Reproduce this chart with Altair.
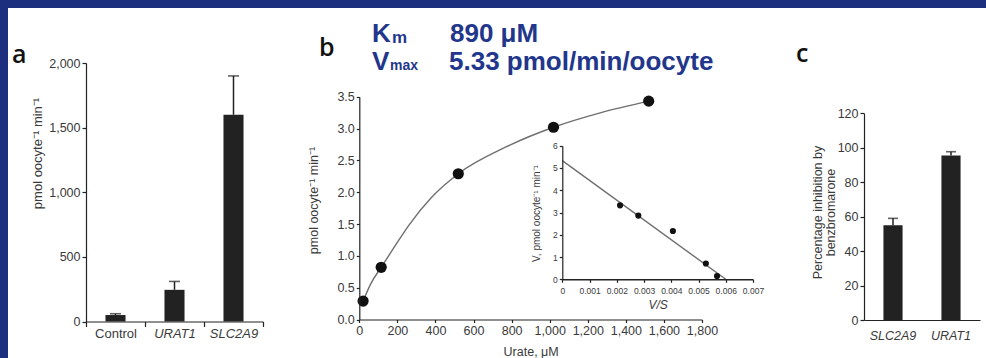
import altair as alt
import pandas as pd

# ---------------- data ----------------
a_groups = ["Control", "URAT1", "SLC2A9"]
a_means = [50, 245, 1600]
a_upper = [60, 310, 1900]
a_ticks = [0, 500, 1000, 1500, 2000]

b_urate = [20, 115, 520, 1020, 1520]
b_rate = [0.29, 0.82, 2.29, 3.02, 3.43]
b_fit_urate = [20, 60, 115, 180, 260, 380, 520, 770, 1020, 1270, 1520]
b_fit_rate = [0.29, 0.56, 0.82, 1.12, 1.48, 1.92, 2.29, 2.71, 3.02, 3.25, 3.43]
b_xticks = [0, 200, 400, 600, 800, 1000, 1200, 1400, 1600, 1800]
b_yticks = [0.0, 0.5, 1.0, 1.5, 2.0, 2.5, 3.0, 3.5]

ins_vs = [0.00212, 0.00279, 0.00406, 0.00527, 0.00568]
ins_v = [3.32, 2.86, 2.17, 0.71, 0.15]
ins_fit_vs = [0.0, 0.006]
ins_fit_v = [5.33, 0.0]
ins_xticks = [0, 0.001, 0.002, 0.003, 0.004, 0.005, 0.006, 0.007]
ins_yticks = [0, 1, 2, 3, 4, 5, 6]

c_groups = ["SLC2A9", "URAT1"]
c_means = [55, 95.5]
c_upper = [59, 97.7]
c_ticks = [0, 20, 40, 60, 80, 100, 120]

# ---------------- layout (page pixels; no padding, view = whole page) ----------------
FRAME = 8
W, H = 986, 358


def v(p):
    return p


FONT = "Liberation Sans"
INK = "#222222"
TXT = "#3a3a3a"
BLUE_BG = "#1b2f7e"
BLUE_TXT = "#22378c"


def axis(orient, pos, **kw):
    off = -pos if orient == "left" else pos - H
    base = dict(orient=orient, offset=off, grid=False, domainColor=INK, tickColor=INK,
                labelColor=TXT, titleColor=TXT, labelFont=FONT, titleFont=FONT,
                titleFontWeight="normal", labelFlush=False, labelOverlap=False,
                domainWidth=1.2, tickWidth=1.2, zindex=1)
    base.update(kw)
    return alt.Axis(**base)


one = pd.DataFrame({"k": [0]})
# blue frame strips along the top and left edges
frame_top = alt.Chart(one).mark_rect(color=BLUE_BG).encode(
    x=alt.value(0), x2=alt.value(W), y=alt.value(0), y2=alt.value(FRAME))
frame_left = alt.Chart(one).mark_rect(color=BLUE_BG).encode(
    x=alt.value(0), x2=alt.value(FRAME), y=alt.value(0), y2=alt.value(H))

# ---------------- panel a ----------------
df_a = pd.DataFrame({"g": a_groups, "m": a_means, "hi": a_upper})
sxa = alt.Scale(domain=a_groups, range=[v(86), v(263)], paddingInner=0, paddingOuter=0)
sya = alt.Scale(domain=[0, 2000], range=[v(321.5), v(63)], nice=False)
xa = alt.X("g:N", sort=a_groups, scale=sxa,
           axis=axis("bottom", v(321.5), title=None, labelAngle=0, tickBand="extent", tickSize=5,
                     labelPadding=1, labelFontSize=13,
                     labelFontStyle={"expr": "datum.value == 'Control' ? 'normal' : 'italic'"}))
ya = alt.Y("m:Q", scale=sya,
           axis=axis("left", v(86), values=a_ticks, format=",.0f", tickSize=4, labelPadding=2,
                     labelFontSize=12.5, title="pmol oocyte⁻¹ min⁻¹", titleFontSize=13,
                     titleX=37 - 86, titleY=v(153), titleBaseline="middle"))
a_bars = alt.Chart(df_a).mark_bar(width={"band": 0.34}, color=INK).encode(x=xa, y=ya)
a_err = alt.Chart(df_a).mark_rule(color=INK, strokeWidth=1.5).encode(
    x=alt.X("g:N", sort=a_groups, scale=sxa, axis=None),
    y=alt.Y("m:Q", scale=sya, axis=None), y2="hi:Q")
a_cap = alt.Chart(df_a).mark_tick(color=INK, size=11, thickness=1.6).encode(
    x=alt.X("g:N", sort=a_groups, scale=sxa, axis=None),
    y=alt.Y("hi:Q", scale=sya, axis=None))

# ---------------- panel b ----------------
df_b = pd.DataFrame({"u": b_urate, "r": b_rate})
df_bf = pd.DataFrame({"u": b_fit_urate, "r": b_fit_rate})
sxb = alt.Scale(domain=[0, 1800], range=[v(359.3), v(702)], nice=False)
syb = alt.Scale(domain=[0, 3.5], range=[v(319.5), v(96.7)], nice=False)
xb = alt.X("u:Q", scale=sxb,
           axis=axis("bottom", v(319.5), values=b_xticks, format=",.0f", tickSize=3, labelPadding=2,
                     labelFontSize=12.5, title="Urate, μM", titleFontSize=12.5,
                     titleY=351 - 319.5, titleBaseline="middle"))
yb = alt.Y("r:Q", scale=syb,
           axis=axis("left", v(359.3), values=b_yticks, format=".1f", tickSize=3, labelPadding=2,
                     labelFontSize=12.5, title="pmol oocyte⁻¹ min⁻¹", titleFontSize=12.5,
                     titleX=313 - 359.3, titleY=v(200), titleBaseline="middle"))
b_line = alt.Chart(df_bf).mark_line(interpolate="monotone", color="#6f6f6f", strokeWidth=1.4).encode(
    x=xb, y=yb)
b_pts = alt.Chart(df_b).mark_circle(size=125, color="#111111", opacity=1).encode(
    x=alt.X("u:Q", scale=sxb, axis=None), y=alt.Y("r:Q", scale=syb, axis=None))

# ---------------- inset ----------------
df_i = pd.DataFrame({"s": ins_vs, "w": ins_v})
df_if = pd.DataFrame({"s": ins_fit_vs, "w": ins_fit_v})
sxi = alt.Scale(domain=[0, 0.007], range=[v(562.3), v(753)], nice=False)
syi = alt.Scale(domain=[0, 6], range=[v(279.3), v(145.7)], nice=False)
xi = alt.X("s:Q", scale=sxi,
           axis=axis("bottom", v(279.3), values=ins_xticks, format=".3~f", tickSize=3, labelPadding=4,
                     labelFontSize=8.5, title="V/S", titleFontSize=12, titleFontStyle="italic",
                     titleY=304 - 279.3, titleBaseline="middle", domainWidth=1.6))
yi = alt.Y("w:Q", scale=syi,
           axis=axis("left", v(562.3), values=ins_yticks, format="d", tickSize=3, labelPadding=2,
                     labelFontSize=8.5, title="V, pmol oocyte⁻¹ min⁻¹", titleFontSize=10,
                     titleX=536 - 562.3, titleY=v(213), titleBaseline="middle"))
i_line = alt.Chart(df_if).mark_line(color="#6f6f6f", strokeWidth=1.4).encode(x=xi, y=yi)
i_pts = alt.Chart(df_i).mark_circle(size=38, color="#111111", opacity=1).encode(
    x=alt.X("s:Q", scale=sxi, axis=None), y=alt.Y("w:Q", scale=syi, axis=None))

# ---------------- panel c ----------------
df_c = pd.DataFrame({"g": c_groups, "m": c_means, "hi": c_upper})
sxc = alt.Scale(domain=c_groups, range=[v(864), v(980)], paddingInner=0, paddingOuter=0)
syc = alt.Scale(domain=[0, 120], range=[v(320), v(113.3)], nice=False)
xc = alt.X("g:N", sort=c_groups, scale=sxc,
           axis=axis("bottom", v(320), title=None, labelAngle=0, ticks=False, tickSize=0,
                     labelPadding=9, labelFontSize=12.5, labelFontStyle="italic"))
yc = alt.Y("m:Q", scale=syc,
           axis=axis("left", v(864), values=c_ticks, format="d", tickSize=4, labelPadding=2,
                     labelFontSize=12.5, title=["Percentage inhibition by", "benzbromarone"],
                     titleFontSize=12.5, titleLineHeight=13,
                     titleX=817 - 864, titleY=v(212), titleBaseline="middle"))
c_bars = alt.Chart(df_c).mark_bar(width={"band": 0.33}, color=INK).encode(x=xc, y=yc)
c_err = alt.Chart(df_c).mark_rule(color=INK, strokeWidth=1.5).encode(
    x=alt.X("g:N", sort=c_groups, scale=sxc, axis=None),
    y=alt.Y("m:Q", scale=syc, axis=None), y2="hi:Q")
c_cap = alt.Chart(df_c).mark_tick(color=INK, size=10, thickness=1.6).encode(
    x=alt.X("g:N", sort=c_groups, scale=sxc, axis=None),
    y=alt.Y("hi:Q", scale=syc, axis=None))


# ---------------- annotations ----------------
def label(text, x, y, size, weight="normal", color="#111111", font="Open Sans"):
    return alt.Chart(one).mark_text(
        text=text, x=v(x), y=v(y), align="left", baseline="alphabetic",
        font=font, fontSize=size, fontWeight=weight, color=color)


notes = [
    label("a", 12, 63, 25, 600),
    label("b", 319, 56, 25, 600),
    label("c", 796, 62, 25, 600),
    label("K", 372, 42, 26, "bold", BLUE_TXT, FONT),
    label("m", 392, 43, 17, "bold", BLUE_TXT, FONT),
    label("890 μM", 450, 42, 26, "bold", BLUE_TXT, FONT),
    label("V", 372, 70, 26, "bold", BLUE_TXT, FONT),
    label("max", 390, 70, 14, "bold", BLUE_TXT, FONT),
    label("5.33 pmol/min/oocyte", 449, 70, 26, "bold", BLUE_TXT, FONT),
]

layers = [frame_top, frame_left,
          a_bars, a_err, a_cap,
          b_line, b_pts,
          i_line, i_pts,
          c_bars, c_err, c_cap] + notes

chart = alt.layer(*layers).resolve_scale(
    x="independent", y="independent"
).properties(
    width=W, height=H, background="white",
    padding={"left": 0, "top": 0, "right": 0, "bottom": 0},
    autosize=alt.AutoSizeParams(type="none"),
).configure_view(fill="white", strokeWidth=0)

chart.save("out.html", embed_options={"renderer": "svg", "actions": False})
